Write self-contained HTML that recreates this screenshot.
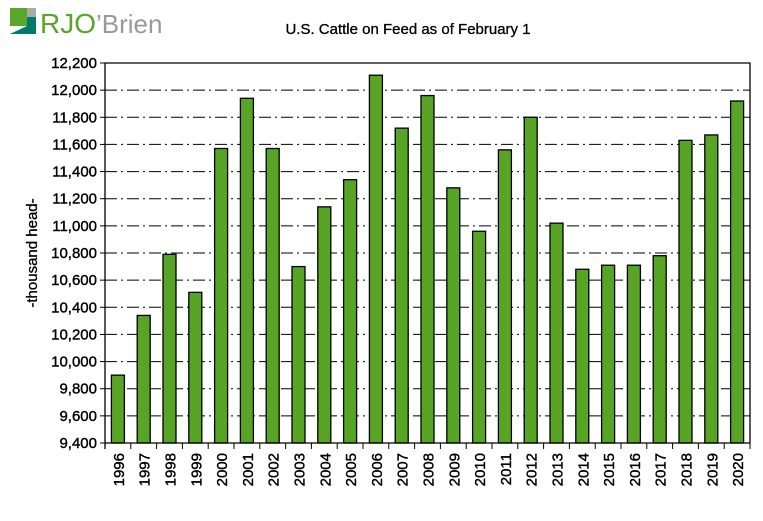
<!DOCTYPE html>
<html><head><meta charset="utf-8"><style>
body{margin:0;background:#fff;font-family:"Liberation Sans",Arial,sans-serif}
svg text{font-family:"Liberation Sans",Arial,sans-serif}
#axes text{stroke:#000;stroke-width:0.4}
</style></head><body>
<svg id="c" width="763" height="516" viewBox="0 0 763 516">
<g>
<rect x="10" y="8" width="26" height="26" fill="#5aa62a"/>
<rect x="27" y="8" width="9" height="9" fill="#aaa"/>
<polygon points="10,34 36,34 36,17 27,17 27,26 10,26" fill="#007a6c"/>
<polygon points="10,34 27,26 10,26" fill="#fff"/>
<text x="40" y="33" font-size="28" fill="#5aa62a">RJO</text>
<text x="96" y="33" font-size="26" fill="#999">’Brien</text>
</g>
<text x="408" y="34" font-size="15" text-anchor="middle" stroke="#000" stroke-width="0.3">U.S. Cattle on Feed as of February 1</text>
<text transform="translate(37,253) rotate(-90)" font-size="15" text-anchor="middle" stroke="#000" stroke-width="0.3">-thousand head-</text>
<g id="grid"></g><g id="bars"></g><g id="axes"></g>
</svg>
<script>
const years=['1996','1997','1998','1999','2000','2001','2002','2003','2004','2005','2006','2007','2008','2009','2010','2011','2012','2013','2014','2015','2016','2017','2018','2019','2020'];
const values=[9900,10340,10790,10510,11570,11940,11570,10700,11140,11340,12110,11720,11960,11280,10960,11560,11800,11020,10680,10710,10710,10780,11630,11670,11920];
const yTicks=[9400,9600,9800,10000,10200,10400,10600,10800,11000,11200,11400,11600,11800,12000,12200];
const X0=105,X1=750,Y0=443,Y1=63,YMIN=9400,YMAX=12200;
const ns='http://www.w3.org/2000/svg';
const y=v=>Y0-(v-YMIN)/(YMAX-YMIN)*(Y0-Y1);
const bw=(X1-X0)/years.length;
const x=i=>X0+bw*i;
function mk(t,a,p){const e=document.createElementNS(ns,t);for(const k in a)e.setAttribute(k,a[k]);p.appendChild(e);return e;}
const g=document.getElementById('grid'),b=document.getElementById('bars'),ax=document.getElementById('axes');
yTicks.forEach(v=>{
 if(v>YMIN&&v<YMAX){const l=mk('line',{x1:X0,x2:X1,y1:y(v),y2:y(v),stroke:'#000','stroke-dasharray':'12,4,2,4'},g);
 
 }
 const tk=mk('line',{x1:X0-5,x2:X0,y1:y(v),y2:y(v),stroke:'#000'},ax);
 
 
 const t=mk('text',{x:X0-8,y:y(v)+5,'font-size':15,'text-anchor':'end'},ax);
 t.textContent=v.toLocaleString('en-US');
 
 
});
values.forEach((v,i)=>{
 const w=13;const r=mk('rect',{x:x(i)+bw/2-w/2,y:y(v),width:w,height:Y0-y(v),fill:'#58a424',stroke:'#000','stroke-width':1.3},b);
 
 
 const tk=mk('line',{x1:x(i+1),x2:x(i+1),y1:Y0,y2:Y0+6,stroke:'#000'},ax);
 
 
 const cx=x(i)+bw/2+6;
 const t=mk('text',{transform:`translate(${cx},${Y0+10}) rotate(-90)`,'font-size':15,'text-anchor':'end'},ax);
 t.textContent=years[i];
 
 
});
const fr=mk('path',{d:`M${X0},${Y1}H${X1}V${Y0}`,fill:'none',stroke:'#000','stroke-width':1.3},ax);


const xa=mk('line',{x1:X0,x2:X1,y1:Y0,y2:Y0,stroke:'#000','stroke-width':1.3},ax);


const ya=mk('line',{x1:X0,x2:X0,y1:Y1,y2:Y0+6,stroke:'#000','stroke-width':1.3},ax);


</script>
</body></html>
